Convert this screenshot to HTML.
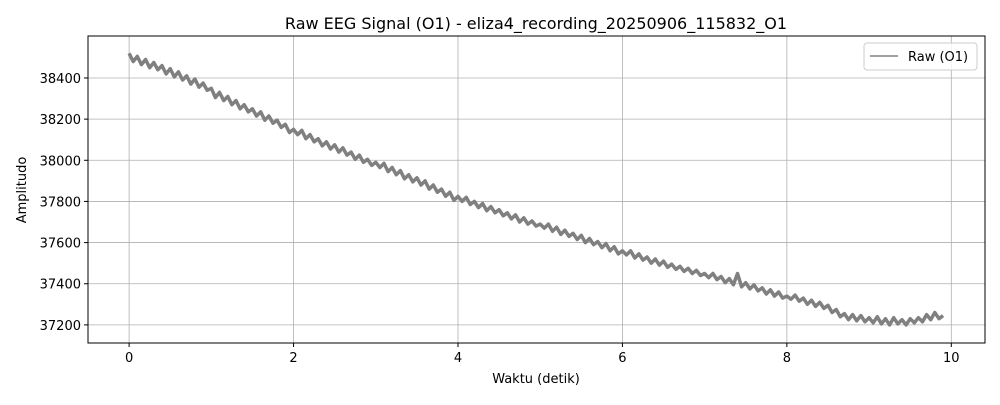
<!DOCTYPE html>
<html><head><meta charset="utf-8"><style>
body{margin:0;background:#fff;font-family:"Liberation Sans","DejaVu Sans",sans-serif}
svg text{font-family:"DejaVu Sans","Liberation Sans",sans-serif}
</style></head><body>
<svg id="chart" width="1000" height="400" xmlns="http://www.w3.org/2000/svg">
<rect width="1000" height="400" fill="#fff"/>
<text x="536" y="29" font-size="16" text-anchor="middle">Raw EEG Signal (O1) - eliza4_recording_20250906_115832_O1</text>
<g id="grid"></g>
<g id="series"></g>
<rect x="88" y="36" width="897" height="307" fill="none" stroke="#000" stroke-width="1"/>
<g id="ticks"></g>
<text x="536" y="383" font-size="13" text-anchor="middle">Waktu (detik)</text>
<text x="26" y="190" font-size="13" text-anchor="middle" transform="rotate(-90 26 190)">Amplitudo</text>
<g>
<rect x="864" y="43" width="113" height="27" rx="3" fill="#fff" fill-opacity="0.8" stroke="#ccc"/>
<line x1="870" y1="56" x2="898" y2="56" stroke="#808080" stroke-width="1.5"/>
<text x="908" y="61" font-size="13">Raw (O1)</text>
</g>
</svg>
<script>
const xTicks=[0,2,4,6,8,10];
const yTicks=[37200,37400,37600,37800,38000,38200,38400];
const tStep=0.05;
const values=[38520,38480,38505,38465,38490,38450,38475,38440,38460,38420,38445,38405,38430,38390,38410,38370,38395,38355,38375,38340,38350,
38305,38330,38290,38310,38270,38290,38250,38270,38235,38250,38215,38235,38195,38215,38180,38195,38160,38175,38135,38150,
38125,38145,38105,38125,38090,38105,38070,38090,38055,38075,38040,38060,38025,38040,38005,38025,37990,38005,37975,37990,
37965,37985,37945,37965,37930,37950,37910,37930,37895,37915,37880,37900,37860,37880,37845,37860,37825,37845,37805,37825,
37800,37820,37785,37800,37770,37790,37755,37775,37745,37760,37730,37745,37715,37735,37700,37720,37690,37705,37680,37690,
37670,37690,37655,37675,37640,37660,37630,37645,37615,37635,37600,37620,37590,37605,37575,37595,37560,37580,37545,37560,
37540,37560,37525,37545,37515,37530,37500,37520,37490,37510,37480,37495,37470,37485,37460,37475,37450,37465,37440,37450,
37430,37450,37420,37435,37405,37425,37395,37450,37385,37405,37375,37395,37365,37380,37350,37370,37340,37360,37330,37340,
37325,37345,37315,37330,37300,37320,37290,37310,37280,37295,37260,37275,37240,37255,37225,37250,37220,37245,37215,37235,
37210,37240,37205,37230,37200,37235,37205,37225,37200,37230,37210,37235,37215,37250,37225,37260,37230,37245];
const NS="http://www.w3.org/2000/svg";
const X0=88,X1=985,Y0=36,Y1=343,xMin=-0.5,xMax=10.41,yMin=37112,yMax=38604;
const sx=v=>X0+(v-xMin)/(xMax-xMin)*(X1-X0);
const sy=v=>Y1-(v-yMin)/(yMax-yMin)*(Y1-Y0);
const grid=document.getElementById('grid'),ticks=document.getElementById('ticks'),series=document.getElementById('series');
function mk(tag,attrs,parent){const e=document.createElementNS(NS,tag);for(const k in attrs)e.setAttribute(k,attrs[k]);parent.appendChild(e);return e;}
xTicks.forEach(t=>{const x=sx(t);
const g=mk('line',{x1:x,x2:x,y1:Y0,y2:Y1,stroke:'#b0b0b0','stroke-width':0.8},grid);


mk('line',{x1:x,x2:x,y1:Y1,y2:Y1+4,stroke:'#000'},ticks);
const l=mk('text',{x:x,y:Y1+19,'font-size':13,'text-anchor':'middle'},ticks);l.textContent=t;

});
yTicks.forEach(t=>{const y=sy(t);
const g=mk('line',{x1:X0,x2:X1,y1:y,y2:y,stroke:'#b0b0b0','stroke-width':0.8},grid);


mk('line',{x1:X0-4,x2:X0,y1:y,y2:y,stroke:'#000'},ticks);
const l=mk('text',{x:X0-7,y:y+5,'font-size':13,'text-anchor':'end'},ticks);l.textContent=t;

});
const d=values.map((v,i)=>(i?'L':'M')+sx(i*tStep).toFixed(1)+' '+sy(v).toFixed(1)).join(' ');
const p=mk('path',{d:d,fill:'none',stroke:'#808080','stroke-width':3.5,'stroke-linejoin':'round'},series);


</script>
</body></html>
